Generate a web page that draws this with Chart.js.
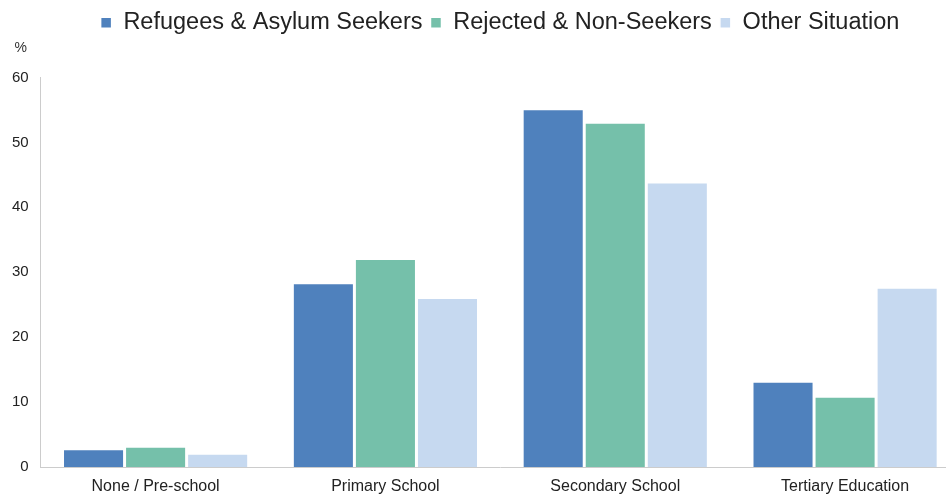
<!DOCTYPE html>
<html>
<head>
<meta charset="utf-8">
<script src="https://cdn.jsdelivr.net/npm/chart.js@4/dist/chart.umd.min.js"></script>
<style>
  html, body { margin: 0; padding: 0; background: #fff; overflow: hidden; }
  #wrap { position: relative; width: 962px; height: 497px; }
</style>
</head>
<body>
<div id="wrap"><canvas id="chart"></canvas></div>
<script>
// categories and values (%)
const categories = ['None / Pre-school', 'Primary School', 'Secondary School', 'Tertiary Education'];
const refugees = [2.8, 28.4, 55.2, 13.2];
const rejected = [3.2, 32.1, 53.1, 10.9];
const other = [2.1, 26.1, 43.9, 27.7];
const yTicks = [0, 10, 20, 30, 40, 50, 60];

const FONT = "'Liberation Sans', 'DejaVu Sans', sans-serif";

// draws the "%" unit label above the y axis
const unitLabel = {
    id: 'unitLabel',
    afterDraw(chart) {
        const ctx = chart.ctx;
        const area = chart.chartArea;
        ctx.save();
        ctx.font = '14px ' + FONT;
        ctx.fillStyle = '#333';
        ctx.textAlign = 'center';
        ctx.textBaseline = 'middle';
        ctx.fillText('%', area.left - 20, area.top - 29);
        ctx.restore();
    }
};

// extra room under the legend, and legend nudged right
const legendMargin = {
    id: 'legendMargin',
    beforeInit(chart) {
        const fit = chart.legend.fit;
        chart.legend.fit = function () {
            fit.bind(chart.legend)();
            this.height += 33;
        };
    },
    afterLayout(chart) {
        chart.legend.left += 20;
        chart.legend.right += 20;
    }
};

function dataset(label, data, color) {
    return {
        label: label,
        data: data,
        backgroundColor: color,
        borderColor: '#ffffff',
        borderWidth: 1.5,
        barPercentage: 1,
        categoryPercentage: 0.81
    };
}

new Chart(document.getElementById('chart'), {
    type: 'bar',
    data: {
        labels: categories,
        datasets: [
            dataset('Refugees & Asylum Seekers', refugees, '#4f81bd'),
            dataset('Rejected & Non-Seekers', rejected, '#75c0aa'),
            dataset('Other Situation', other, '#c6d9f0')
        ]
    },
    options: {
        responsive: true,
        maintainAspectRatio: false,
        animation: false,
        layout: { padding: { top: 3, right: 2, bottom: 0, left: 0 } },
        plugins: {
            legend: {
                position: 'top',
                labels: {
                    font: { family: FONT, size: 23.5 },
                    color: '#222',
                    boxWidth: 11,
                    boxHeight: 11,
                    padding: 8
                }
            },
            tooltip: { enabled: false }
        },
        scales: {
            x: {
                grid: { display: false, drawTicks: false },
                border: { display: true, color: '#cccccc', width: 1 },
                ticks: { font: { family: FONT, size: 16 }, color: '#222', padding: 10 },
                afterFit(scale) {
                    scale.height = 30;
                }
            },
            y: {
                min: 0,
                max: 60,
                afterBuildTicks(scale) {
                    scale.ticks = yTicks.map(v => ({ value: v }));
                },
                grid: { display: false, drawTicks: false },
                border: { display: true, color: '#cccccc', width: 1 },
                ticks: { font: { family: FONT, size: 15 }, color: '#222', padding: 12 }
            }
        }
    },
    plugins: [unitLabel, legendMargin]
});
</script>
</body>
</html>
